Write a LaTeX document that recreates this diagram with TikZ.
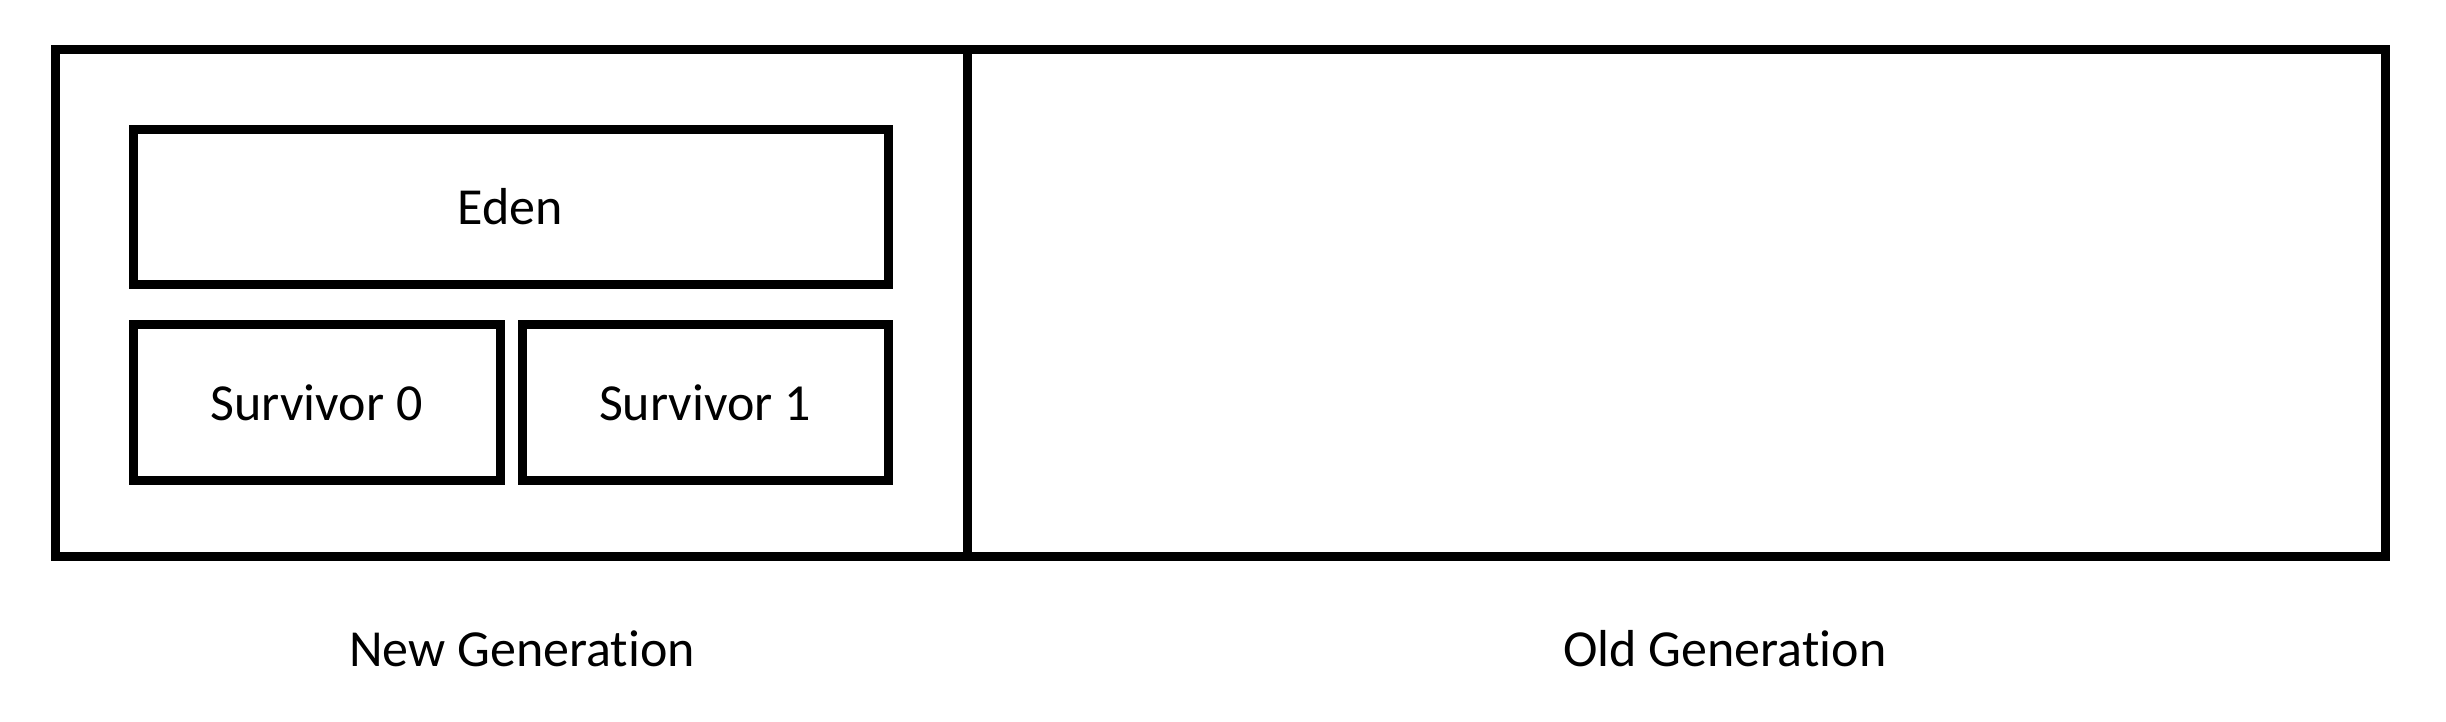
\documentclass[tikz,border=0pt]{standalone}
\usepackage{fontspec}
\setmainfont[Ligatures=NoCommon]{Carlito}
\usepackage{tikz}
\usetikzlibrary{positioning}

\begin{document}
\begin{tikzpicture}[x=0.5pt, y=-0.5pt,
        region/.style={draw, line width=4.5pt, minimum height=253pt, inner sep=0pt, outer sep=0pt},
        space/.style={draw, line width=4.5pt, minimum height=77.75pt, inner sep=0pt, outer sep=0pt, font=\fontsize{26}{31}\selectfont},
        caption/.style={font=\fontsize{26}{31}\selectfont}]
        \useasboundingbox (0,0) rectangle (2446,722);

        \node[region, minimum width=456pt] (newgen) at (511,303) {};
        \node[region, minimum width=709pt] (oldgen) at (1676,303) {};

        \node[space, minimum width=377.5pt] (eden) at (510.5,207) {Eden};
        \node[space, minimum width=183.5pt] (surv0) at (316.5,402.5) {Survivor 0};
        \node[space, minimum width=183pt] (surv1) at (705,402.5) {Survivor 1};

        \node[caption] (newlabel) at (522,649) {New Generation};
        \node[caption] (oldlabel) at (1725,649) {Old Generation};
    \end{tikzpicture}
\end{document}
